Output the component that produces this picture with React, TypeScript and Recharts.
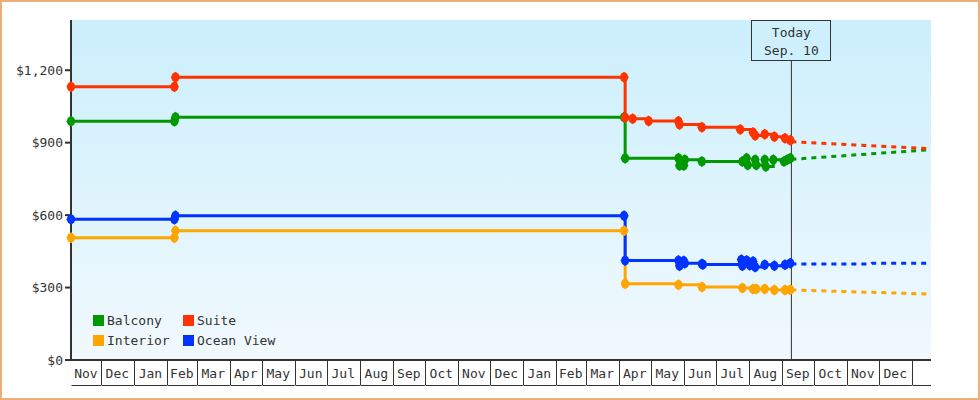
import React from 'react';
import { LineChart, Line, XAxis, YAxis, CartesianGrid, ReferenceLine } from 'recharts';

type Pt = [string, number];

// fare history (date, price)
const balcony: Pt[] = [
  ['2013-11-03', 989], ['2014-02-08', 989], ['2014-02-09', 1005], ['2015-04-06', 1005],
  ['2015-04-07', 836], ['2015-05-27', 836], ['2015-05-28', 805], ['2015-06-01', 805],
  ['2015-06-02', 829], ['2015-06-18', 822], ['2015-07-26', 822], ['2015-07-30', 836],
  ['2015-07-31', 808], ['2015-08-07', 829], ['2015-08-08', 808], ['2015-08-16', 829],
  ['2015-08-17', 801], ['2015-08-24', 829], ['2015-09-03', 822], ['2015-09-06', 829],
  ['2015-09-09', 836],
];
const suite: Pt[] = [
  ['2013-11-03', 1132], ['2014-02-08', 1132], ['2014-02-09', 1171], ['2015-04-06', 1171],
  ['2015-04-07', 1004], ['2015-04-14', 999], ['2015-04-29', 990], ['2015-05-27', 989],
  ['2015-05-28', 975], ['2015-06-18', 964], ['2015-07-24', 955], ['2015-08-05', 942],
  ['2015-08-07', 930], ['2015-08-16', 935], ['2015-08-25', 925], ['2015-09-04', 918],
  ['2015-09-09', 910],
];
const interior: Pt[] = [
  ['2013-11-03', 506], ['2014-02-08', 506], ['2014-02-09', 535], ['2015-04-06', 535],
  ['2015-04-07', 316], ['2015-05-27', 312], ['2015-06-18', 302], ['2015-07-26', 298],
  ['2015-08-05', 294], ['2015-08-08', 294], ['2015-08-16', 294], ['2015-08-25', 290],
  ['2015-09-04', 290], ['2015-09-09', 291],
];
const oceanView: Pt[] = [
  ['2013-11-03', 583], ['2014-02-08', 583], ['2014-02-09', 597], ['2015-04-06', 597],
  ['2015-04-07', 412], ['2015-05-27', 412], ['2015-05-28', 390], ['2015-06-01', 410],
  ['2015-06-02', 401], ['2015-06-18', 398], ['2015-06-19', 395], ['2015-07-25', 415],
  ['2015-07-26', 390], ['2015-07-30', 412], ['2015-08-02', 392], ['2015-08-05', 408],
  ['2015-08-07', 385], ['2015-08-16', 394], ['2015-08-25', 390], ['2015-09-04', 394],
  ['2015-09-09', 401],
];

// projected prices after today
const balconyForecast: Pt[] = [['2015-09-10', 831], ['2016-01-19', 871]];
const suiteForecast: Pt[] = [['2015-09-10', 904], ['2016-01-19', 875]];
const interiorForecast: Pt[] = [['2015-09-10', 290], ['2016-01-19', 273]];
const oceanViewForecast: Pt[] = [['2015-09-10', 398], ['2015-11-24', 398], ['2015-11-25', 401], ['2016-01-19', 401]];

const monthLabels = [
  'Nov', 'Dec', 'Jan', 'Feb', 'Mar', 'Apr', 'May', 'Jun', 'Jul', 'Aug', 'Sep', 'Oct', 'Nov',
  'Dec', 'Jan', 'Feb', 'Mar', 'Apr', 'May', 'Jun', 'Jul', 'Aug', 'Sep', 'Oct', 'Nov', 'Dec',
];
const yTicks = [0, 300, 600, 900, 1200];

const START = '2013-11-03';
const END = '2016-01-19';
const TODAY = '2015-09-10';

const FONT = '"DejaVu Sans Mono", monospace';
const INK = '#333';

const ts = (s: string) => {
  const [y, m, d] = s.split('-').map(Number);
  return Date.UTC(y, m - 1, d);
};
const rows = (pts: Pt[]) => pts.map(([d, v]) => ({ t: ts(d), v }));

const series = [
  { name: 'Balcony', color: '#009900', data: balcony, forecast: balconyForecast },
  { name: 'Suite', color: '#ff3300', data: suite, forecast: suiteForecast },
  { name: 'Interior', color: '#ffa500', data: interior, forecast: interiorForecast },
  { name: 'Ocean View', color: '#0033ff', data: oceanView, forecast: oceanViewForecast },
];

const W = 980;
const H = 400;
const LEFT = 71;
const RIGHT = 49;
const TOP = 20;
const X_AXIS_H = 40;

const tStart = ts(START);
const tEnd = ts(END);
const PX_PER_MS = (W - LEFT - RIGHT) / (tEnd - tStart);

// month boundaries: domain start, then the 1st of each month
const axisTicks = [tStart, ...monthLabels.map((_, i) => Date.UTC(2013, 11 + i, 1))];

const crisp = (v: number) => Math.round(v) + 0.5;

function MonthTick(props: any) {
  const { x, y, payload } = props;
  const i = axisTicks.indexOf(payload.value);
  const next = i + 1 < axisTicks.length ? axisTicks[i + 1] : tEnd;
  const w = (next - axisTicks[i]) * PX_PER_MS;
  const x0 = crisp(x);
  const label = monthLabels[i];
  return (
    <g>
      {i > 0 && <line x1={x0} y1={y} x2={x0} y2={y + 25} stroke={INK} strokeWidth={1} />}
      <line x1={x0} y1={y + 25.5} x2={x + w} y2={y + 25.5} stroke={INK} strokeWidth={1} />
      {label && (
        <text x={x + w / 2} y={y + 18} textAnchor="middle" fontFamily={FONT} fontSize={13} fill={INK}>
          {label}
        </text>
      )}
    </g>
  );
}

function TodayLabel(props: any) {
  const { x, y } = props.viewBox;
  return (
    <g>
      <rect x={crisp(x) - 40} y={y + 0.5} width={79} height={40} fill="#cef0fc" stroke={INK} strokeWidth={1} />
      <text x={x} y={y + 17} textAnchor="middle" fontFamily={FONT} fontSize={13} fill={INK}>Today</text>
      <text x={x} y={y + 35} textAnchor="middle" fontFamily={FONT} fontSize={13} fill={INK}>Sep. 10</text>
    </g>
  );
}

const marker = (color: string) => (p: any) => {
  const { cx, cy, index } = p;
  if (cx == null || cy == null) return <g key={index} />;
  const d = `M${cx},${cy - 5.5}L${cx + 3},${cy - 3.5}L${cx + 4.5},${cy}L${cx + 3},${cy + 3.5}L${cx},${cy + 5.5}L${cx - 3},${cy + 3.5}L${cx - 4.5},${cy}L${cx - 3},${cy - 3.5}Z`;
  return <path key={index} d={d} fill={color} />;
};

export default function App() {
  return (
    <div style={{ position: 'relative', width: W, height: H, background: '#fff' }}>
      <style>{'body{margin:0}'}</style>
      <LineChart width={W} height={H} margin={{ top: TOP, right: RIGHT, bottom: 0, left: 0 }}>
        <defs>
          <linearGradient id="plotBg" x1="0" y1="0" x2="0" y2="1">
            <stop offset="0" stopColor="#cbeffc" />
            <stop offset="1" stopColor="#f1f9fe" />
          </linearGradient>
        </defs>
        <CartesianGrid fill="url(#plotBg)" horizontal={false} vertical={false} />
        <XAxis
          dataKey="t"
          type="number"
          domain={[tStart, tEnd]}
          ticks={axisTicks}
          interval={0}
          height={X_AXIS_H}
          tickSize={0}
          tickMargin={0}
          tickLine={false}
          axisLine={{ stroke: INK, strokeWidth: 2 }}
          tick={(p: any) => <MonthTick {...p} />}
        />
        <YAxis
          type="number"
          width={LEFT}
          domain={[0, 1408]}
          ticks={yTicks}
          interval={0}
          tickSize={6}
          tickMargin={2}
          tickFormatter={(v: number) => `$${v.toLocaleString('en-US')}`}
          tick={{ fill: INK, fontSize: 13, fontFamily: FONT }}
          tickLine={{ stroke: INK, strokeWidth: 2 }}
          axisLine={{ stroke: INK, strokeWidth: 2 }}
        />
        <ReferenceLine x={ts(TODAY)} stroke={INK} strokeWidth={1} label={<TodayLabel />} />
        {series.map(s => (
          <Line
            key={s.name + '-f'}
            data={rows(s.forecast)}
            dataKey="v"
            type="linear"
            stroke={s.color}
            strokeWidth={3}
            strokeDasharray="5 5"
            dot={false}
            activeDot={false}
            legendType="none"
            isAnimationActive={false}
          />
        ))}
        {series.map(s => (
          <Line
            key={s.name}
            name={s.name}
            data={rows(s.data)}
            dataKey="v"
            type="stepAfter"
            stroke={s.color}
            strokeWidth={3}
            dot={marker(s.color)}
            activeDot={false}
            isAnimationActive={false}
          />
        ))}
      </LineChart>

      <div
        style={{
          position: 'absolute',
          left: 93,
          top: 315,
          display: 'grid',
          gridTemplateColumns: '90px 110px',
          rowGap: 9,
          fontFamily: FONT,
          fontSize: 13,
          color: INK,
        }}
      >
        {series.map(s => (
          <div key={s.name} style={{ display: 'flex', alignItems: 'center', height: 11 }}>
            <span style={{ width: 11, height: 11, background: s.color, marginRight: 3 }} />
            <span style={{ lineHeight: '11px', whiteSpace: 'nowrap' }}>{s.name}</span>
          </div>
        ))}
      </div>

      <div
        style={{
          position: 'absolute',
          inset: 0,
          border: '2px solid #eab078',
          pointerEvents: 'none',
        }}
      />
    </div>
  );
}
